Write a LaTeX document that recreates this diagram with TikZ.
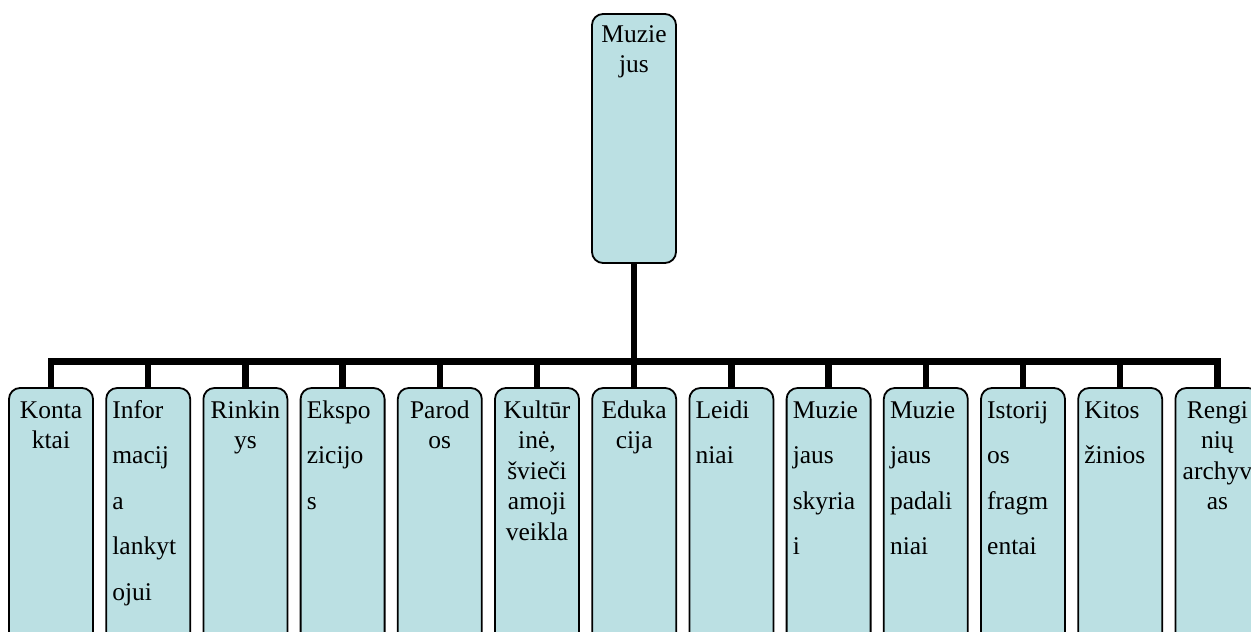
\documentclass[tikz,border=0pt]{standalone}
\usepackage{fontspec}
\setmainfont{Liberation Serif}
\definecolor{boxfill}{RGB}{187,224,227}
\tikzset{
  box/.style={draw=black, line width=1.8pt, fill=boxfill, rounded corners=11pt,
    minimum width=84pt, inner sep=0pt, outer sep=0pt},
  kid/.style={box, minimum height=270pt},
  wire/.style={line width=6.5pt, line join=miter, line cap=butt},
  ctext/.style={inner sep=0pt, anchor=base, font=\fontsize{25.5}{30.5}\selectfont},
  ltext/.style={inner sep=0pt, anchor=base west, font=\fontsize{25.5}{45.5}\selectfont},
}
\newcommand{\ctx}[1]{\parbox[t]{90pt}{\centering #1}}
\newcommand{\ltx}[1]{\parbox[t]{80pt}{\raggedright #1}}
\begin{document}
\begin{tikzpicture}[x=1pt,y=-1pt]
\useasboundingbox (0,0) rectangle (1251,632);
\clip (0,0) rectangle (1251,632);
% top box
\node[box, minimum height=249pt] (top) at (634,138.5) {};
% children
\foreach \i in {1,...,13} {
  \node[kid] (b\i) at ({51+97.2*(\i-1)},523) {};
}
% connectors
\foreach \i in {1,...,13} {
  \draw[wire] (top.south) -- (634,361.5) -| (b\i.north);
}
% texts
\node[ctext] (t0) at (634,42) {\ctx{Muzie\\jus}};
\node[ctext] (t1) at (51,418) {\ctx{Konta\\ktai}};
\node[ltext] (t2) at (112.2,418) {\ltx{Infor\\macij\\a\\lankyt\\ojui}};
\node[ctext] (t3) at (245.4,418) {\ctx{Rinkin\\ys}};
\node[ltext] (t4) at (306.6,418) {\ltx{Ekspo\\zicijo\\s}};
\node[ctext] (t5) at (439.8,418) {\ctx{Parod\\os}};
\node[ctext] (t6) at (537,418) {\ctx{Kultūr\\inė,\\švieči\\amoji\\veikla}};
\node[ctext] (t7) at (634.2,418) {\ctx{Eduka\\cija}};
\node[ltext] (t8) at (695.4,418) {\ltx{Leidi\\niai}};
\node[ltext] (t9) at (792.6,418) {\ltx{Muzie\\jaus\\skyria\\i}};
\node[ltext] (t10) at (889.8,418) {\ltx{Muzie\\jaus\\padali\\niai}};
\node[ltext] (t11) at (987,418) {\ltx{Istorij\\os\\fragm\\entai}};
\node[ltext] (t12) at (1084.2,418) {\ltx{Kitos\\žinios}};
\node[ctext] (t13) at (1217.4,418) {\ctx{Rengi\\nių\\archyv\\as}};
\end{tikzpicture}
\end{document}
